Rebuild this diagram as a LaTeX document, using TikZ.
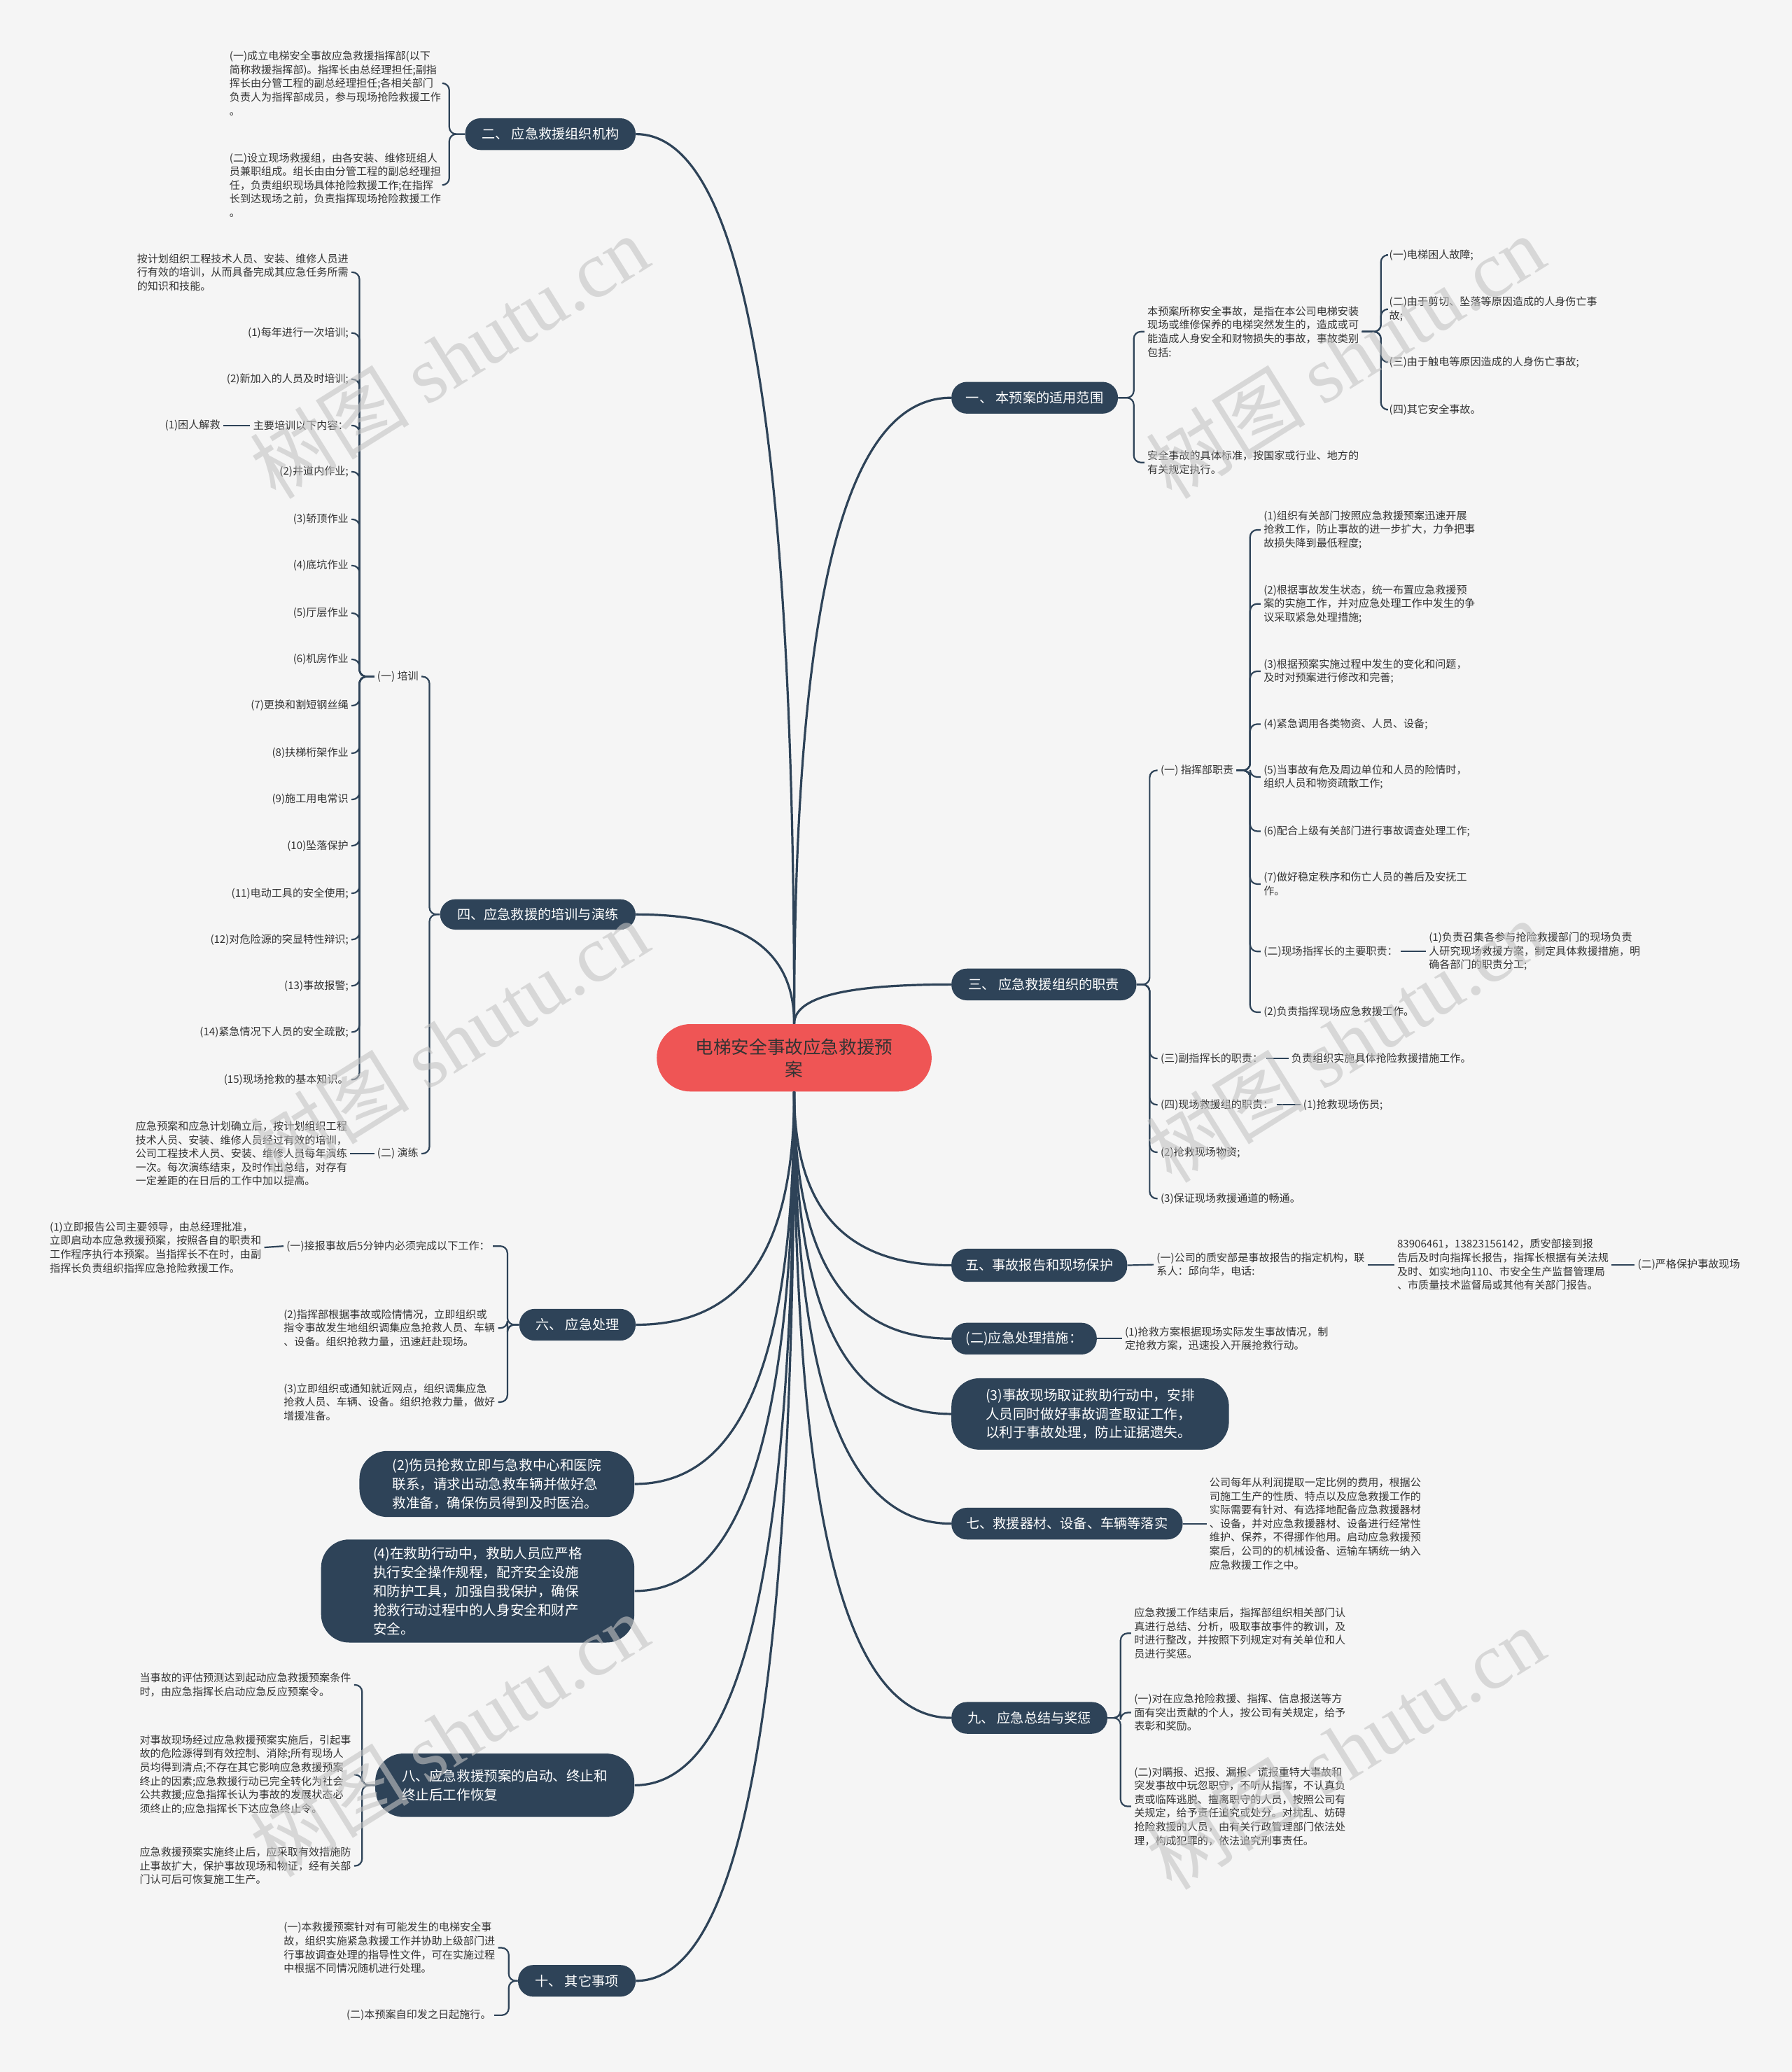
\documentclass[tikz,border=0pt]{standalone}
\usepackage{fontspec}
\setmainfont{Noto Sans CJK SC}
\newfontfamily\wmserif{Liberation Serif}
\usetikzlibrary{calc}
\definecolor{bg}{HTML}{F5F5F5}
\definecolor{nb}{HTML}{2E4358}
\definecolor{ln}{HTML}{2E4358}
\definecolor{tx}{HTML}{333333}
\definecolor{cr}{HTML}{EF5555}
\definecolor{wm}{HTML}{C4C4C4}
\tikzset{
 txt/.style={font=\fontsize{7.55}{9.8}\selectfont, text=tx, inner xsep=2pt, inner ysep=0pt, align=left},
 brn/.style={fill=nb, text=white, font=\fontsize{9.6}{13}\selectfont, rounded corners=11pt, inner sep=0pt, align=center},
 bign/.style={fill=nb, text=white, font=\fontsize{9.8}{13.4}\selectfont, rounded corners=20pt, inner sep=0pt, align=left},
 ctr/.style={fill=cr, text=tx, font=\fontsize{12.8}{16}\selectfont, rounded corners=24pt, inner sep=0pt, align=center},
 wh/.style 2 args={minimum width=#1*0.944pt, minimum height=#2*0.944pt},
 bline/.style={draw=ln, line width=1.1pt, rounded corners=5pt},
 mline/.style={draw=ln, line width=1.6pt},
 wmk/.style={text=wm, opacity=0.6, rotate=32, inner sep=0pt},
}
\newcommand\brk[3]{\coordinate (bxx) at (#2,0); \draw[bline] (#1) -- (bxx |- #1) -- (bxx |- #3) -- (#3);}
\newcommand\mcv[2]{\draw[mline] (#1) .. controls ($(#1)!0.75!(#1 |- #2)$) and ($(#1 |- #2)!0.4!(#2)$) .. (#2);}
\begin{document}
\begin{tikzpicture}[x=0.944pt,y=-0.944pt]
\fill[bg] (0,0) rectangle (1356,1568);
\useasboundingbox (0,0) rectangle (1356,1568);

% center
\node[ctr, wh={208}{51}] (C) at (601,800.5) {电梯安全事故应急救援预\\案};

% ---------- left side ----------
\node[brn, wh={129}{24}] (B2) at (416.5,101.5) {二、 应急救援组织机构};
\node[txt, anchor=east] (T2a) at (336,63) {(一)成立电梯安全事故应急救援指挥部(以下\\简称救援指挥部)。指挥长由总经理担任;副指\\挥长由分管工程的副总经理担任;各相关部门\\负责人为指挥部成员，参与现场抢险救援工作\\。};
\node[txt, anchor=east] (T2b) at (336,140) {(二)设立现场救援组，由各安装、维修班组人\\员兼职组成。组长由由分管工程的副总经理担\\任，负责组织现场具体抢险救援工作;在指挥\\长到达现场之前，负责指挥现场抢险救援工作\\。};
\brk{B2.west}{340}{T2a.east}
\brk{B2.west}{340}{T2b.east}

\node[brn, wh={148}{23}] (B4) at (407,692) {四、应急救援的培训与演练};
\node[txt, anchor=east] (P1) at (319,512) {(一) 培训};
\node[txt, anchor=east] (P2) at (319,873) {(二) 演练};
\brk{B4.west}{325}{P1.east}
\brk{B4.west}{325}{P2.east}
\node[txt, anchor=east] (K0) at (266,206) {按计划组织工程技术人员、安装、维修人员进\\行有效的培训，从而具备完成其应急任务所需\\的知识和技能。};
\node[txt, anchor=east] (K1) at (266,252) {(1)每年进行一次培训;};
\node[txt, anchor=east] (K2) at (266,287) {(2)新加入的人员及时培训;};
\node[txt, anchor=east] (K3) at (266,322) {主要培训以下内容：};
\node[txt, anchor=east] (K4) at (266,357) {(2)井道内作业;};
\node[txt, anchor=east] (K5) at (266,393) {(3)轿顶作业};
\node[txt, anchor=east] (K6) at (266,428) {(4)底坑作业};
\node[txt, anchor=east] (K7) at (266,464) {(5)厅层作业};
\node[txt, anchor=east] (K8) at (266,499) {(6)机房作业};
\node[txt, anchor=east] (K9) at (266,534) {(7)更换和割短钢丝绳};
\node[txt, anchor=east] (K10) at (266,570) {(8)扶梯桁架作业};
\node[txt, anchor=east] (K11) at (266,605) {(9)施工用电常识};
\node[txt, anchor=east] (K12) at (266,640) {(10)坠落保护};
\node[txt, anchor=east] (K13) at (266,676) {(11)电动工具的安全使用;};
\node[txt, anchor=east] (K14) at (266,711) {(12)对危险源的突显特性辩识;};
\node[txt, anchor=east] (K15) at (266,746) {(13)事故报警;};
\node[txt, anchor=east] (K16) at (266,781) {(14)紧急情况下人员的安全疏散;};
\node[txt, anchor=east] (K17) at (266,817) {(15)现场抢救的基本知识。};
\foreach \k in {K0,K1,K2,K3,K4,K5,K6,K7,K8,K9,K10,K11,K12,K13,K14,K15,K16,K17}{\brk{P1.west}{272}{\k.east}}
\node[txt, anchor=east] (K3a) at (169,322) {(1)困人解救};
\draw[bline] (K3.west) -- (K3a.east);
\node[txt, anchor=east] (Q) at (265,873) {应急预案和应急计划确立后，按计划组织工程\\技术人员、安装、维修人员经过有效的培训，\\公司工程技术人员、安装、维修人员每年演练\\一次。每次演练结束，及时作出总结，对存有\\一定差距的在日后的工作中加以提高。};
\draw[bline] (P2.west) -- (Q.east);

\node[brn, wh={88}{24}] (B6) at (437,1002.5) {六、 应急处理};
\node[txt, anchor=east] (S1) at (373,943) {(一)接报事故后5分钟内必须完成以下工作：};
\node[txt, anchor=east] (S1a) at (200,944) {(1)立即报告公司主要领导，由总经理批准，\\立即启动本应急救援预案，按照各自的职责和\\工作程序执行本预案。当指挥长不在时，由副\\指挥长负责组织指挥应急抢险救援工作。};
\draw[bline] (S1.west) -- (S1a.east);
\node[txt, anchor=east] (S2) at (377,1005) {(2)指挥部根据事故或险情情况，立即组织或\\指令事故发生地组织调集应急抢救人员、车辆\\、设备。组织抢救力量，迅速赶赴现场。};
\node[txt, anchor=east] (S3) at (377,1061) {(3)立即组织或通知就近网点，组织调集应急\\抢救人员、车辆、设备。组织抢救力量，做好\\增援准备。};
\brk{B6.west}{384}{S1.east}
\brk{B6.west}{384}{S2.east}
\brk{B6.west}{384}{S3.east}

\node[bign, wh={208}{50}] (N2) at (376,1123) {(2)伤员抢救立即与急救中心和医院\\联系，请求出动急救车辆并做好急\\救准备，确保伤员得到及时医治。};
\node[bign, wh={237}{78}] (N4) at (361.5,1204) {(4)在救助行动中，救助人员应严格\\执行安全操作规程，配齐安全设施\\和防护工具，加强自我保护，确保\\抢救行动过程中的人身安全和财产\\安全。};

\node[bign, wh={196}{48}] (B8) at (382,1351) {八、应急救援预案的启动、终止和\\终止后工作恢复};
\node[txt, anchor=east] (E1) at (268,1275) {当事故的评估预测达到起动应急救援预案条件\\时，由应急指挥长启动应急反应预案令。};
\node[txt, anchor=east] (E2) at (268,1343) {对事故现场经过应急救援预案实施后，引起事\\故的危险源得到有效控制、消除;所有现场人\\员均得到清点;不存在其它影响应急救援预案\\终止的因素;应急救援行动已完全转化为社会\\公共救援;应急指挥长认为事故的发展状态必\\须终止的;应急指挥长下达应急终止令。};
\node[txt, anchor=east] (E3) at (268,1412) {应急救援预案实施终止后，应采取有效措施防\\止事故扩大，保护事故现场和物证，经有关部\\门认可后可恢复施工生产。};
\brk{B8.west}{274}{E1.east}
\brk{B8.west}{274}{E2.east}
\brk{B8.west}{274}{E3.east}

\node[brn, wh={89}{24}] (B10) at (436.5,1499) {十、 其它事项};
\node[txt, anchor=east] (F1) at (377,1474) {(一)本救援预案针对有可能发生的电梯安全事\\故，组织实施紧急救援工作并协助上级部门进\\行事故调查处理的指导性文件，可在实施过程\\中根据不同情况随机进行处理。};
\node[txt, anchor=east] (F2) at (374,1525) {(二)本预案自印发之日起施行。};
\brk{B10.west}{385}{F1.east}
\brk{B10.west}{385}{F2.east}

% ---------- right side ----------
\node[brn, wh={126}{24}] (B1) at (783,301) {一、 本预案的适用范围};
\node[txt, anchor=west] (R1) at (866,251) {本预案所称安全事故，是指在本公司电梯安装\\现场或维修保养的电梯突然发生的，造成或可\\能造成人身安全和财物损失的事故，事故类别\\包括:};
\node[txt, anchor=west] (R2) at (866,350) {安全事故的具体标准，按国家或行业、地方的\\有关规定执行。};
\brk{B1.east}{858}{R1.west}
\brk{B1.east}{858}{R2.west}
\node[txt, anchor=west] (R1a) at (1049,193) {(一)电梯困人故障;};
\node[txt, anchor=west] (R1b) at (1049,234) {(二)由于剪切、坠落等原因造成的人身伤亡事\\故;};
\node[txt, anchor=west] (R1c) at (1049,274) {(三)由于触电等原因造成的人身伤亡事故;};
\node[txt, anchor=west] (R1d) at (1049,310) {(四)其它安全事故。};
\foreach \k in {R1a,R1b,R1c,R1d}{\brk{R1.east}{1045}{\k.west}}

\node[brn, wh={140}{24}] (B3) at (790,745) {三、 应急救援组织的职责};
\node[txt, anchor=west] (H1) at (876,583) {(一) 指挥部职责};
\node[txt, anchor=west] (H3) at (876,801) {(三)副指挥长的职责：};
\node[txt, anchor=west] (H3a) at (975,801) {负责组织实施具体抢险救援措施工作。};
\node[txt, anchor=west] (H4) at (876,836) {(四)现场救援组的职责：};
\node[txt, anchor=west] (H4a) at (984,836) {(1)抢救现场伤员;};
\node[txt, anchor=west] (H5) at (876,872) {(2)抢救现场物资;};
\node[txt, anchor=west] (H6) at (876,907) {(3)保证现场救援通道的畅通。};
\foreach \k in {H1,H3,H4,H5,H6}{\brk{B3.east}{870}{\k.west}}
\draw[bline] (H3.east) -- (H3a.west);
\draw[bline] (H4.east) -- (H4a.west);
\node[txt, anchor=west] (G1) at (954,401) {(1)组织有关部门按照应急救援预案迅速开展\\抢救工作，防止事故的进一步扩大，力争把事\\故损失降到最低程度;};
\node[txt, anchor=west] (G2) at (954,457) {(2)根据事故发生状态，统一布置应急救援预\\案的实施工作，并对应急处理工作中发生的争\\议采取紧急处理措施;};
\node[txt, anchor=west] (G3) at (954,508) {(3)根据预案实施过程中发生的变化和问题，\\及时对预案进行修改和完善;};
\node[txt, anchor=west] (G4) at (954,548) {(4)紧急调用各类物资、人员、设备;};
\node[txt, anchor=west] (G5) at (954,588) {(5)当事故有危及周边单位和人员的险情时，\\组织人员和物资疏散工作;};
\node[txt, anchor=west] (G6) at (954,629) {(6)配合上级有关部门进行事故调查处理工作;};
\node[txt, anchor=west] (G7) at (954,669) {(7)做好稳定秩序和伤亡人员的善后及安抚工\\作。};
\node[txt, anchor=west] (G8) at (954,720) {(二)现场指挥长的主要职责：};
\node[txt, anchor=west] (G9) at (954,766) {(2)负责指挥现场应急救援工作。};
\foreach \k in {G1,G2,G3,G4,G5,G6,G7,G8,G9}{\brk{H1.east}{946}{\k.west}}
\node[txt, anchor=west] (G8a) at (1079,720) {(1)负责召集各参与抢险救援部门的现场负责\\人研究现场救援方案，制定具体救援措施，明\\确各部门的职责分工;};
\draw[bline] (G8.east) -- (G8a.west);

\node[brn, wh={133}{25}] (B5) at (786.5,957.5) {五、事故报告和现场保护};
\node[txt, anchor=west] (V1) at (873,957) {(一)公司的质安部是事故报告的指定机构，联\\系人：邱向华，电话:};
\node[txt, anchor=west] (V2) at (1055,957) {83906461，13823156142，质安部接到报\\告后及时向指挥长报告，指挥长根据有关法规\\及时、如实地向110、市安全生产监督管理局\\、市质量技术监督局或其他有关部门报告。};
\node[txt, anchor=west] (V3) at (1237,957) {(二)严格保护事故现场};
\draw[bline] (B5.east) -- (V1.west);
\draw[bline] (V1.east) -- (V2.west);
\draw[bline] (V2.east) -- (V3.west);

\node[brn, wh={110}{24}] (M2) at (775,1013) {(二)应急处理措施：};
\node[txt, anchor=west] (M2a) at (849,1013) {(1)抢救方案根据现场实际发生事故情况，制\\定抢救方案，迅速投入开展抢救行动。};
\draw[bline] (M2.east) -- (M2a.west);

\node[bign, wh={210}{54}] (N3) at (825,1070) {(3)事故现场取证救助行动中，安排\\人员同时做好事故调查取证工作，\\以利于事故处理，防止证据遗失。};

\node[brn, wh={175}{24}] (B7) at (807.5,1153) {七、救援器材、设备、车辆等落实};
\node[txt, anchor=west] (B7a) at (913,1153) {公司每年从利润提取一定比例的费用，根据公\\司施工生产的性质、特点以及应急救援工作的\\实际需要有针对、有选择地配备应急救援器材\\、设备，并对应急救援器材、设备进行经常性\\维护、保养，不得挪作他用。启动应急救援预\\案后，公司的的机械设备、运输车辆统一纳入\\应急救援工作之中。};
\draw[bline] (B7.east) -- (B7a.west);

\node[brn, wh={118}{24}] (B9) at (779,1300) {九、 应急总结与奖惩};
\node[txt, anchor=west] (J1) at (856,1236) {应急救援工作结束后，指挥部组织相关部门认\\真进行总结、分析，吸取事故事件的教训，及\\时进行整改，并按照下列规定对有关单位和人\\员进行奖惩。};
\node[txt, anchor=west] (J2) at (856,1296) {(一)对在应急抢险救援、指挥、信息报送等方\\面有突出贡献的个人，按公司有关规定，给予\\表彰和奖励。};
\node[txt, anchor=west] (J3) at (856,1367) {(二)对瞒报、迟报、漏报、谎报重特大事故和\\突发事故中玩忽职守，不听从指挥，不认真负\\责或临阵逃脱、擅离职守的人员，按照公司有\\关规定，给予责任追究或处分。对扰乱、妨碍\\抢险救援的人员，由有关行政管理部门依法处\\理，构成犯罪的，依法追究刑事责任。};
\brk{B9.east}{848}{J1.west}
\brk{B9.east}{848}{J2.west}
\brk{B9.east}{848}{J3.west}

% ---------- main curves ----------
\mcv{C.north}{B2.east}
\mcv{C.north}{B4.east}
\mcv{C.north}{B1.west}
\mcv{C.north}{B3.west}
\mcv{C.south}{B6.east}
\mcv{C.south}{N2.east}
\mcv{C.south}{N4.east}
\mcv{C.south}{B8.east}
\mcv{C.south}{B10.east}
\mcv{C.south}{B5.west}
\mcv{C.south}{M2.west}
\mcv{C.south}{N3.west}
\mcv{C.south}{B7.west}
\mcv{C.south}{B9.west}

% ---------- watermarks ----------
\foreach \p [count=\i] in {{(340,270)},{(340,788)},{(340,1313)},{(1018,270)},{(1018,788)},{(1018,1323)}}{
 \node[wmk] (W\i) at \p {\fontsize{57}{57}\selectfont 树图 {\wmserif shutu.cn}};
}
\end{tikzpicture}
\end{document}
